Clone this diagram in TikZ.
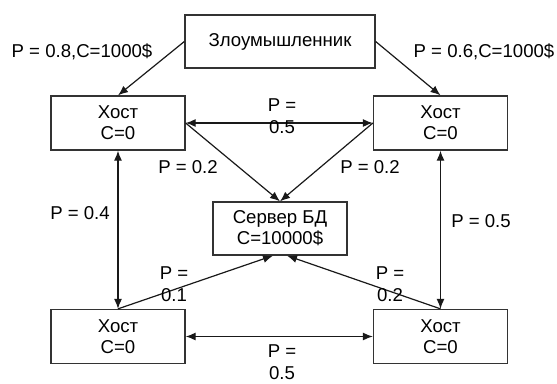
\documentclass[tikz,border=0pt]{standalone}
\usepackage{fontspec}
\setmainfont{Liberation Sans}
\usetikzlibrary{arrows.meta}
\tikzset{
  box/.style={draw=black!80, line width=1.3pt, rectangle, inner sep=0pt, align=center,
    minimum width=134pt, minimum height=54pt, font=\fontsize{18.6}{21}\selectfont},
  lbl/.style={inner sep=0pt, align=center, font=\fontsize{18.6}{22}\selectfont},
  conn/.style={line width=1.2pt, draw=black!90, -{Latex[length=10pt,width=8pt]}},
  dconn/.style={line width=1.2pt, draw=black!90, {Latex[length=10pt,width=8pt]}-{Latex[length=10pt,width=8pt]}}
}
\begin{document}
\begin{tikzpicture}[x=1pt,y=-1pt]
\useasboundingbox (0,0) rectangle (557,383);
\node[box, minimum width=190pt, minimum height=53pt] (att) at (280,41.5) {Злоумышленник};
\node[box] (tl) at (118,123) {Хост\\C=0};
\node[box] (tr) at (440.5,123) {Хост\\C=0};
\node[box, minimum height=53pt] (srv) at (280,228.5) {Сервер БД\\C=10000\$};
\node[box] (bl) at (118,336.5) {Хост\\C=0};
\node[box] (br) at (440.5,336.5) {Хост\\C=0};

\coordinate (sbl) at ([xshift=-7pt]srv.south);
\coordinate (sbr) at ([xshift=7pt]srv.south);

\draw[conn] (att.west) -- (tl.north);
\draw[conn] (att.east) -- (tr.north);
\draw[dconn] (tl.east) -- (tr.west);
\draw[conn] (tl.east) -- (srv.north);
\draw[conn] (tr.west) -- (srv.north);
\draw[dconn] (tl.south) -- (bl.north);
\draw[dconn] (tr.south) -- (br.north);
\draw[conn] (bl.north) -- (sbl);
\draw[conn] (br.north) -- (sbr);
\draw[dconn] (bl.east) -- (br.west);

\node[lbl] (l1) at (82,52) {P = 0.8,C=1000\$};
\node[lbl] (l2) at (484,52) {P = 0.6,C=1000\$};
\node[lbl] (l3) at (282,116) {P =\\0.5};
\node[lbl] (l4) at (188,167) {P = 0.2};
\node[lbl] (l5) at (370,167) {P = 0.2};
\node[lbl] (l6) at (80,213) {P = 0.4};
\node[lbl] (l7) at (481,221) {P = 0.5};
\node[lbl] (l8) at (174,284) {P =\\0.1};
\node[lbl] (l9) at (390,284) {P =\\0.2};
\node[lbl] (l10) at (282,362) {P =\\0.5};
\end{tikzpicture}
\end{document}
